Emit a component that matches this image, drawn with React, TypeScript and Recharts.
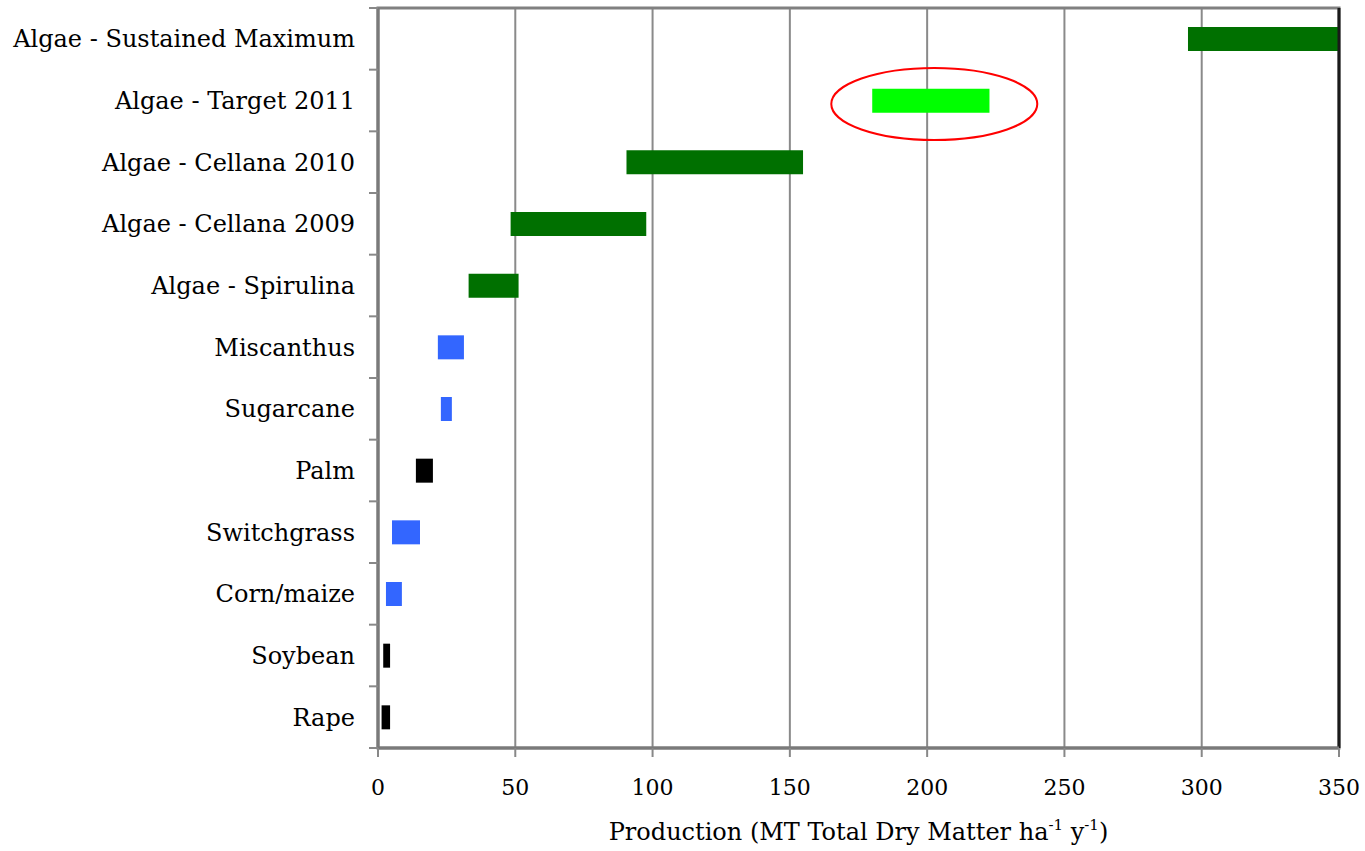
import { BarChart, Bar, XAxis, YAxis, CartesianGrid, Cell, ReferenceDot, ReferenceLine, ReferenceArea } from "recharts";

const crops = [
  "Algae - Sustained Maximum",
  "Algae - Target 2011",
  "Algae - Cellana 2010",
  "Algae - Cellana 2009",
  "Algae - Spirulina",
  "Miscanthus",
  "Sugarcane",
  "Palm",
  "Switchgrass",
  "Corn/maize",
  "Soybean",
  "Rape",
];
const lowValues = [295, 180, 90.5, 48.3, 33, 21.8, 22.9, 13.8, 5.1, 2.9, 1.9, 1.3];
const highValues = [350, 222.7, 154.8, 97.7, 51.2, 31.3, 26.9, 20, 15.3, 8.7, 4.4, 4.4];
const barColors = [
  "#007000", "#00ff00", "#007000", "#007000", "#007000",
  "#3366ff", "#3366ff", "#000000", "#3366ff", "#3366ff", "#000000", "#000000",
];
const xTicks = [0, 50, 100, 150, 200, 250, 300, 350];
const highlightCrop = "Algae - Target 2011";
const highlightCenter = 202.6;

const data = crops.map((name, i) => ({
  name,
  range: [lowValues[i], highValues[i]],
}));

const FONT = "'DejaVu Serif', serif";
const AXIS_X = 378;

function CropTick(props: any) {
  const { y, payload, index } = props;
  const half = payload?.offset ?? 30.8;
  return (
    <g>
      <line x1={AXIS_X - 9} x2={AXIS_X} y1={y - half} y2={y - half} stroke="#888" strokeWidth={2} />
      {index === crops.length - 1 && (
        <line x1={AXIS_X - 9} x2={AXIS_X} y1={y + half} y2={y + half} stroke="#888" strokeWidth={2} />
      )}
      <text x={AXIS_X - 23} y={y} dy="0.35em" textAnchor="end" fontFamily={FONT} fontSize={24} fill="#000">
        {payload.value}
      </text>
    </g>
  );
}

function AxisTitle(props: any) {
  const { viewBox } = props;
  const cx = viewBox.x + viewBox.width / 2;
  const y = viewBox.y + viewBox.height - 11;
  return (
    <text x={cx} y={y} textAnchor="middle" fontFamily={FONT} fontSize={24} fill="#000">
      Production (MT Total Dry Matter ha
      <tspan fontSize={15} dy={-10}>-1</tspan>
      <tspan dy={10}> y</tspan>
      <tspan fontSize={15} dy={-10}>-1</tspan>
      <tspan dy={10}>)</tspan>
    </text>
  );
}

function Ellipse(props: any) {
  const { cx, cy } = props;
  return <ellipse cx={cx} cy={cy + 3.5} rx={103} ry={36} fill="none" stroke="#ff0000" strokeWidth={2} />;
}

export default function App() {
  return (
    <div style={{ position: "absolute", left: 0, top: 0, width: 1365, height: 851, background: "#fff" }}>
      <BarChart
        width={1365}
        height={851}
        data={data}
        layout="vertical"
        margin={{ top: 8, right: 26, bottom: 0, left: 0 }}
      >
        <CartesianGrid horizontal={false} stroke="#8a8a8a" strokeWidth={2} verticalValues={xTicks} />
        <ReferenceArea x1={0} x2={350} fill="none" stroke="#808080" strokeWidth={3} ifOverflow="visible" />
        <XAxis
          type="number"
          domain={[0, 350]}
          ticks={xTicks}
          allowDataOverflow
          height={103}
          axisLine={{ stroke: "#7a7a7a", strokeWidth: 3 }}
          tickLine={{ stroke: "#888", strokeWidth: 2 }}
          tickSize={9}
          tickMargin={22}
          tick={{ fontFamily: FONT, fontSize: 22, fill: "#000" }}
          label={<AxisTitle />}
        />
        <YAxis
          type="category"
          dataKey="name"
          width={AXIS_X}
          axisLine={{ stroke: "#7a7a7a", strokeWidth: 3 }}
          tickLine={false}
          tick={<CropTick />}
          interval={0}
        />
        <ReferenceLine x={350} stroke="#1a1a1a" strokeWidth={3} />
        <Bar dataKey="range" barSize={24} isAnimationActive={false}>
          {data.map((d, i) => (
            <Cell key={d.name} fill={barColors[i]} />
          ))}
        </Bar>
        <ReferenceDot x={highlightCenter} y={highlightCrop} shape={<Ellipse />} ifOverflow="visible" />
      </BarChart>
    </div>
  );
}
